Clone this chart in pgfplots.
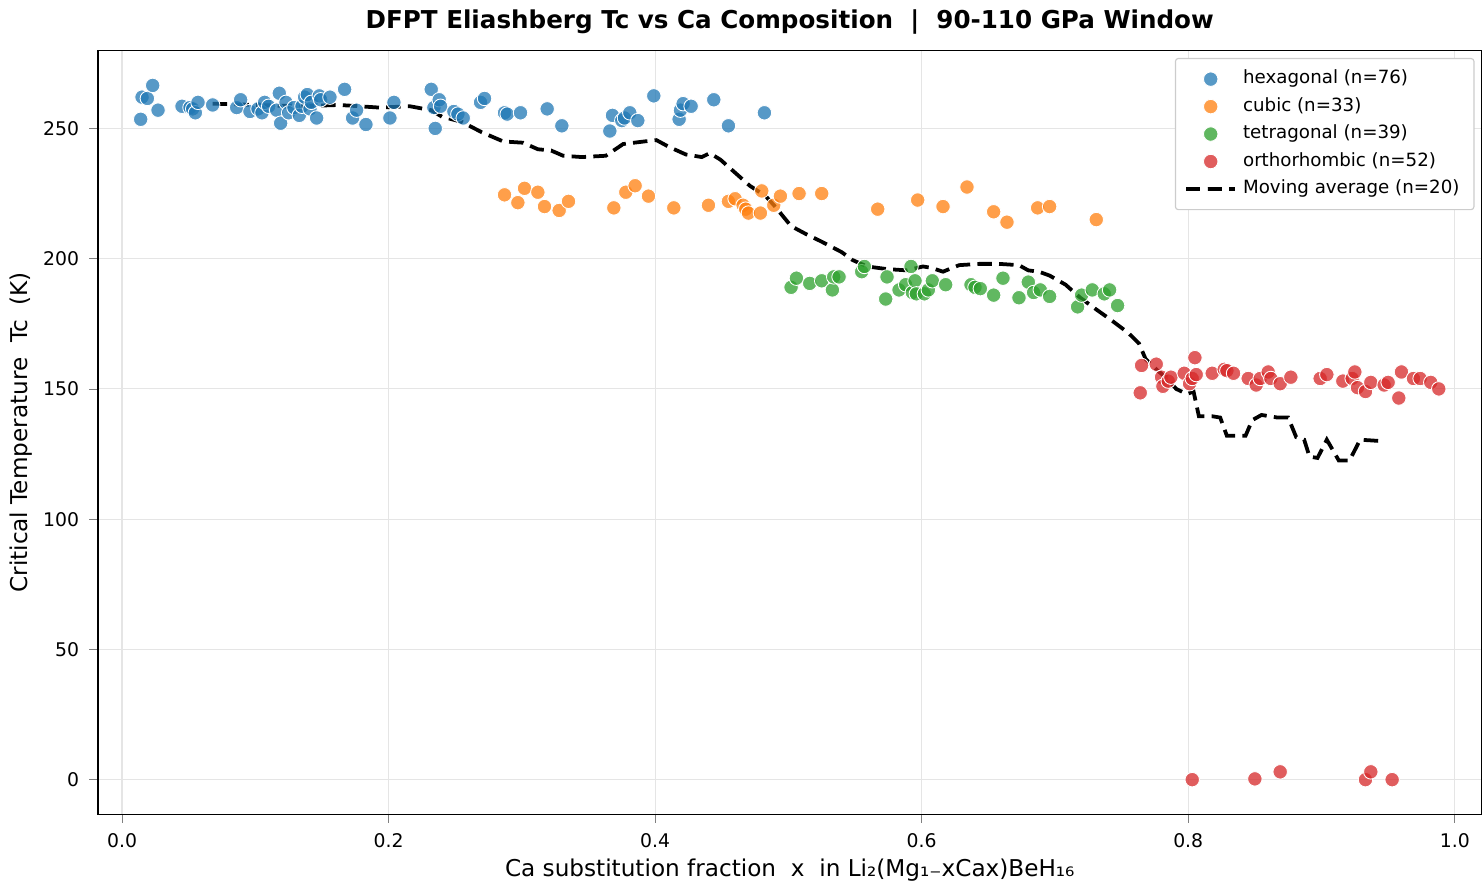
\documentclass[border=0pt]{standalone}
\usepackage{pgfplots}
\pgfplotsset{compat=1.18}
\usepackage{fontspec}
\setmainfont{DejaVu Sans}
\definecolor{cblue}{HTML}{1F77B4}
\definecolor{corange}{HTML}{FF7F0E}
\definecolor{cgreen}{HTML}{2CA02C}
\definecolor{cred}{HTML}{D62728}
\begin{document}
\begin{tikzpicture}
\begin{axis}[
  scale only axis, width=478pt, height=264pt,
  xmin=-0.018, xmax=1.02, ymin=-13.3, ymax=280,
  xtick={0,0.2,0.4,0.6,0.8,1.0},
  xticklabels={0.0,0.2,0.4,0.6,0.8,1.0},
  ytick={0,50,100,150,200,250},
  tick align=outside, xtick pos=bottom, ytick pos=left,
  major tick length=3pt,
  grid=major, grid style={gray!20, line width=0.4pt},
  tick label style={font=\fontsize{6.5}{7}\selectfont},
  /pgf/number format/assume math mode=true,
  xlabel={Ca substitution fraction\ \ x\ \ in Li₂(Mg₁₋xCax)BeH₁₆},
  ylabel={Critical Temperature\ \ Tc\ \ (K)},
  label style={font=\fontsize{8}{9}\selectfont},
  title={\textbf{DFPT Eliashberg Tc vs Ca Composition\ \ |\ \ 90-110 GPa Window}},
  title style={font=\fontsize{8.5}{10}\selectfont, yshift=-4pt},
  xlabel style={yshift=3pt}, ylabel style={yshift=-3pt},
  legend pos=north east,
  legend style={font=\fontsize{6.3}{8}\selectfont, draw=gray!40, rounded corners=1pt, row sep=-0.8pt, at={(0.995,0.99)}},
  legend cell align=left,
]
\addplot[only marks, mark=*, mark size=2.5pt, mark options={fill=cblue, draw=white, line width=0.3pt, fill opacity=0.75}] coordinates {
(0.014,253.5)(0.015,262)(0.019,261.5)(0.023,266.5)(0.027,257)(0.045,258.5)(0.051,258)(0.053,257.5)(0.055,256)(0.057,260)(0.068,259)(0.086,258)(0.089,261)(0.096,256.5)(0.102,257.5)(0.105,256)(0.107,260)(0.110,258.5)(0.116,257)(0.118,263.5)(0.119,252)(0.123,260)(0.125,256)(0.129,258)(0.133,255)(0.135,258.5)(0.137,262)(0.139,263)(0.141,257.5)(0.142,260)(0.146,254)(0.148,262.5)(0.149,261)(0.156,262)(0.167,265)(0.173,254)(0.176,257)(0.183,251.5)(0.201,254)(0.204,260)(0.232,265)(0.235,250)(0.234,258)(0.238,261)(0.239,258.5)(0.249,256.5)(0.252,255.5)(0.256,254)(0.269,260)(0.272,261.5)(0.287,256)(0.289,255.5)(0.299,256)(0.319,257.5)(0.330,251)(0.366,249)(0.368,255)(0.375,253)(0.377,254)(0.381,256)(0.387,253)(0.399,262.5)(0.418,253.5)(0.419,257)(0.421,259.5)(0.427,258.5)(0.444,261)(0.455,251)(0.482,256)};
\addlegendentry{hexagonal (n=76)}
\addplot[only marks, mark=*, mark size=2.5pt, mark options={fill=corange, draw=white, line width=0.3pt, fill opacity=0.75}] coordinates {
(0.287,224.5)(0.297,221.5)(0.302,227)(0.312,225.5)(0.317,220)(0.328,218.5)(0.335,222)(0.369,219.5)(0.378,225.5)(0.385,228)(0.395,224)(0.414,219.5)(0.440,220.5)(0.455,222)(0.460,223)(0.466,220.5)(0.468,219)(0.470,217.5)(0.479,217.5)(0.480,226)(0.489,220.5)(0.494,224)(0.508,225)(0.525,225)(0.567,219)(0.597,222.5)(0.616,220)(0.634,227.5)(0.654,218)(0.664,214)(0.687,219.5)(0.696,220)(0.731,215)};
\addlegendentry{cubic (n=33)}
\addplot[only marks, mark=*, mark size=2.5pt, mark options={fill=cgreen, draw=white, line width=0.3pt, fill opacity=0.75}] coordinates {
(0.502,189)(0.506,192.5)(0.516,190.5)(0.525,191.5)(0.533,188)(0.534,193)(0.538,193)(0.555,195)(0.557,197)(0.573,184.5)(0.574,193)(0.583,188)(0.588,190)(0.592,197)(0.593,187)(0.595,191.5)(0.596,186.5)(0.602,186.5)(0.605,188)(0.608,191.5)(0.618,190)(0.637,190)(0.640,189)(0.644,188.5)(0.654,186)(0.661,192.5)(0.673,185)(0.680,191)(0.684,187)(0.689,188)(0.696,185.5)(0.717,181.5)(0.720,186)(0.728,188)(0.737,186.5)(0.741,188)(0.747,182)};
\addlegendentry{tetragonal (n=39)}
\addplot[only marks, mark=*, mark size=2.5pt, mark options={fill=cred, draw=white, line width=0.3pt, fill opacity=0.75}] coordinates {
(0.764,148.5)(0.765,159)(0.776,159.5)(0.780,154.5)(0.781,151)(0.785,153)(0.787,154.5)(0.797,156)(0.801,152)(0.803,154)(0.805,162)(0.806,155.5)(0.818,156)(0.827,157.5)(0.829,157)(0.834,156)(0.845,154)(0.851,151.5)(0.854,154)(0.860,156.5)(0.862,154)(0.869,152)(0.877,154.5)(0.899,154)(0.904,155.5)(0.916,153)(0.923,154)(0.925,156.5)(0.927,150.5)(0.933,149)(0.937,152.5)(0.947,151.5)(0.950,152.5)(0.958,146.5)(0.960,156.5)(0.969,154)(0.974,154)(0.982,152.5)(0.988,150)
(0.803,0)(0.850,0.3)(0.869,3)(0.933,0)(0.937,3)(0.953,0)};
\addlegendentry{orthorhombic (n=52)}
\addplot[black, line width=1.3pt, dash pattern=on 5pt off 2.5pt, no marks, sharp plot] coordinates {
(0.068,259.5)(0.133,258.5)(0.163,259)(0.193,258)(0.216,258.5)(0.232,257)(0.240,254.5)(0.255,252.5)(0.270,248.5)(0.286,245)(0.301,244.5)(0.312,242)(0.322,241.5)(0.331,239.5)(0.345,239)(0.363,239.5)(0.376,244)(0.392,245)(0.401,245.5)(0.410,243)(0.423,240)(0.435,239)(0.441,240.5)(0.449,238)(0.460,233)(0.471,228)(0.483,224)(0.490,220)(0.502,212.5)(0.513,209.5)(0.525,206.5)(0.540,202.5)(0.548,199.5)(0.559,197)(0.574,196)(0.589,195.5)(0.601,197)(0.607,196.5)(0.616,195)(0.628,197.5)(0.643,198)(0.658,198)(0.673,197.5)(0.680,195.5)(0.688,195)(0.696,193.5)(0.708,190)(0.719,185)(0.731,180.5)(0.742,176.5)(0.755,171.5)(0.763,167.5)(0.768,161.5)(0.776,157.5)(0.784,154)(0.791,150)(0.799,148)(0.804,149)(0.808,139.5)(0.818,139.5)(0.824,139)(0.829,132)(0.843,132)(0.848,138)(0.855,140)(0.867,139)(0.875,139)(0.881,131.5)(0.887,130.5)(0.891,124)(0.897,123.5)(0.904,130.5)(0.913,122.5)(0.921,122.5)(0.929,130.5)(0.944,130)};
\addlegendentry{Moving average (n=20)}
\end{axis}
\end{tikzpicture}
\end{document}
